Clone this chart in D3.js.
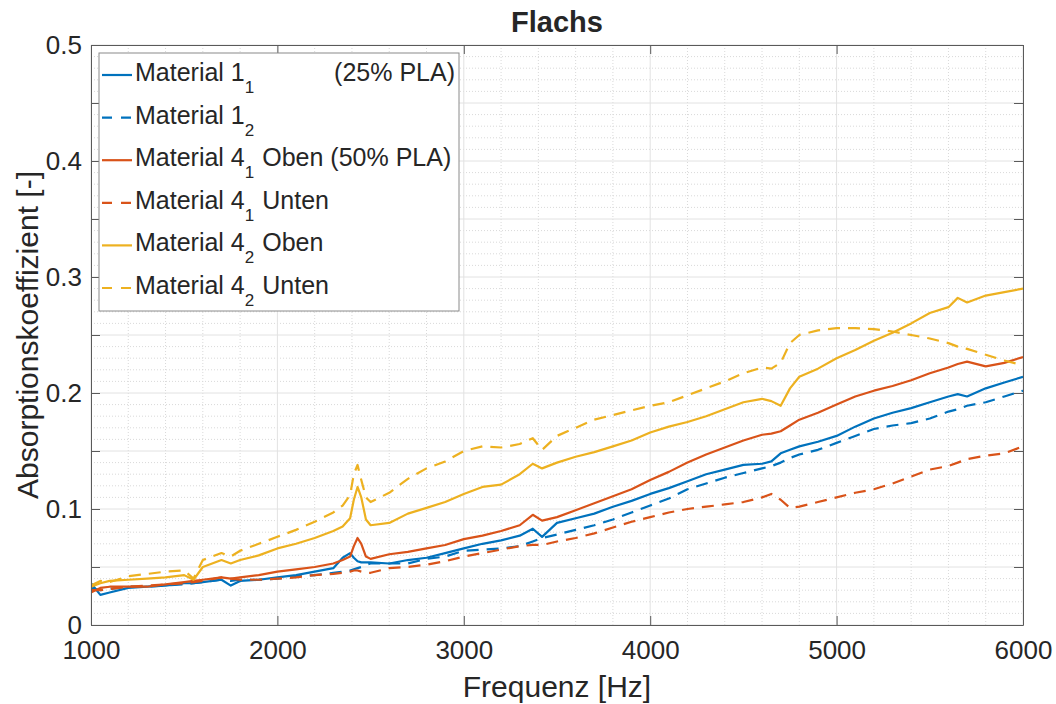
<!DOCTYPE html>
<html>
<head>
<meta charset="utf-8">
<script src="https://cdn.jsdelivr.net/npm/d3@7"></script>
<style>
  body { margin: 0; background: #fff; }
  svg text { font-family: "Liberation Sans", Arial, Helvetica, sans-serif; fill: #262626; }
</style>
</head>
<body>
<div id="chart"></div>
<script>
// frequency grid (Hz), shared by all series
var freq = [1000,1050,1100,1200,1300,1400,1500,1550,1600,1700,1750,1800,1900,2000,2100,2200,2300,2350,2390,2410,2430,2450,2475,2500,2600,2700,2800,2900,3000,3100,3200,3300,3370,3420,3500,3600,3700,3800,3900,4000,4100,4200,4300,4400,4500,4600,4650,4700,4750,4800,4900,5000,5100,5200,5300,5400,5500,5600,5650,5700,5800,5900,6000];

// Material 1_1 (solid blue)
var mat11 = [.036,.026,.028,.032,.033,.034,.036,.036,.037,.039,.034,.038,.039,.041,.043,.046,.049,.058,.062,.058,.055,.054,.054,.054,.053,.056,.058,.062,.066,.070,.073,.077,.083,.076,.088,.092,.096,.102,.107,.113,.118,.124,.130,.134,.138,.139,.141,.148,.151,.154,.158,.163,.171,.178,.183,.187,.192,.197,.199,.197,.204,.209,.214];
// Material 1_2 (dashed blue)
var mat12 = [.032,.030,.031,.033,.033,.034,.035,.036,.037,.039,.038,.039,.039,.040,.042,.043,.045,.046,.047,.048,.049,.050,.052,.053,.053,.053,.057,.059,.064,.065,.066,.068,.072,.075,.078,.082,.086,.091,.097,.103,.109,.117,.122,.127,.131,.135,.137,.140,.144,.147,.151,.157,.163,.169,.172,.174,.178,.184,.186,.189,.192,.197,.202];
// Material 4_1 Oben (solid red)
var mat41o = [.028,.032,.033,.033,.033,.035,.037,.038,.039,.041,.040,.041,.043,.046,.048,.050,.053,.056,.059,.068,.075,.070,.059,.057,.061,.063,.066,.069,.074,.077,.081,.086,.095,.090,.093,.099,.105,.111,.117,.125,.132,.140,.147,.153,.159,.164,.165,.167,.172,.177,.183,.190,.197,.202,.206,.211,.217,.222,.225,.227,.223,.226,.231];
// Material 4_1 Unten (dashed red)
var mat41u = [.030,.030,.031,.033,.034,.035,.036,.037,.038,.041,.040,.039,.039,.040,.041,.043,.044,.045,.046,.047,.047,.046,.045,.045,.049,.050,.052,.055,.059,.062,.065,.068,.069,.069,.072,.075,.079,.084,.089,.093,.097,.100,.102,.104,.106,.110,.113,.108,.101,.102,.106,.110,.114,.117,.122,.128,.134,.137,.140,.143,.146,.148,.154];
// Material 4_2 Oben (solid yellow)
var mat42o = [.033,.036,.038,.039,.040,.041,.043,.039,.050,.056,.053,.056,.060,.066,.070,.075,.081,.085,.092,.108,.119,.110,.091,.086,.088,.096,.101,.106,.113,.119,.121,.130,.139,.135,.140,.145,.149,.154,.159,.166,.171,.175,.180,.186,.192,.195,.193,.189,.204,.214,.221,.230,.237,.245,.252,.260,.269,.274,.282,.278,.284,.287,.290];
// Material 4_2 Unten (dashed yellow)
var mat42u = [.034,.038,.037,.042,.044,.046,.047,.040,.056,.062,.059,.064,.070,.076,.082,.089,.097,.103,.112,.130,.138,.125,.110,.106,.114,.126,.135,.141,.150,.154,.153,.156,.161,.151,.163,.170,.177,.181,.185,.189,.192,.198,.204,.210,.217,.222,.221,.226,.243,.250,.254,.256,.256,.255,.253,.250,.247,.243,.240,.238,.233,.228,.224];

var xTicks = [1000,2000,3000,4000,5000,6000];
var yTicks = [0,0.05,0.1,0.15,0.2,0.25,0.3,0.35,0.4,0.45,0.5];

var legendMain = ["Material 1","Material 1","Material 4","Material 4","Material 4","Material 4"];
var legendSub = ["1","2","1","1","2","2"];
var legendRest = ["","","Oben (50% PLA)","Unten","Oben","Unten"];

var series = [
  {values: mat11, color: "#0072BD", dash: null},
  {values: mat12, color: "#0072BD", dash: "12,8"},
  {values: mat41o, color: "#D95319", dash: null},
  {values: mat41u, color: "#D95319", dash: "12,8"},
  {values: mat42o, color: "#EDB120", dash: null},
  {values: mat42u, color: "#EDB120", dash: "12,8"}
];

var svgWidth = 1056;
var svgHeight = 704;
var margin = {top: 45, right: 33, bottom: 79, left: 91};
var width = svgWidth - margin.left - margin.right;
var height = svgHeight - margin.top - margin.bottom;

var svg = d3.select("#chart")
  .append("svg")
  .attr("width", svgWidth)
  .attr("height", svgHeight);

var chartGroup = svg.append("g")
  .attr("transform", `translate(${margin.left}, ${margin.top})`);

var xScale = d3.scaleLinear().domain([1000, 6000]).range([0, width]);
var yScale = d3.scaleLinear().domain([0, 0.5]).range([height, 0]);

// minor grid
var minorX = d3.range(1200, 6000, 200).filter(d => d % 1000 !== 0);
var minorY = d3.range(1, 50).filter(d => d % 5 !== 0).map(d => d / 100);

chartGroup.append("g").selectAll("line")
  .data(minorX).enter().append("line")
  .attr("x1", d => xScale(d)).attr("x2", d => xScale(d))
  .attr("y1", 0).attr("y2", height)
  .attr("stroke", "#d9d9d9").attr("stroke-width", 1)
  .attr("stroke-dasharray", "1,2");

chartGroup.append("g").selectAll("line")
  .data(minorY).enter().append("line")
  .attr("x1", 0).attr("x2", width)
  .attr("y1", d => yScale(d)).attr("y2", d => yScale(d))
  .attr("stroke", "#d9d9d9").attr("stroke-width", 1)
  .attr("stroke-dasharray", "1,2");

// major grid
chartGroup.append("g").selectAll("line")
  .data(xTicks).enter().append("line")
  .attr("x1", d => xScale(d)).attr("x2", d => xScale(d))
  .attr("y1", 0).attr("y2", height)
  .attr("stroke", "#e2e2e2").attr("stroke-width", 1);

chartGroup.append("g").selectAll("line")
  .data(yTicks).enter().append("line")
  .attr("x1", 0).attr("x2", width)
  .attr("y1", d => yScale(d)).attr("y2", d => yScale(d))
  .attr("stroke", "#e2e2e2").attr("stroke-width", 1);

// clip for the data lines
svg.append("defs").append("clipPath").attr("id", "plotClip")
  .append("rect").attr("width", width).attr("height", height);

var line = d3.line()
  .x((d, i) => xScale(freq[i]))
  .y(d => yScale(d));

chartGroup.append("g").attr("clip-path", "url(#plotClip)")
  .selectAll("path")
  .data(series).enter().append("path")
  .attr("d", d => line(d.values))
  .attr("fill", "none")
  .attr("stroke", d => d.color)
  .attr("stroke-width", 2.2)
  .attr("stroke-linejoin", "round")
  .attr("stroke-dasharray", d => d.dash);

// axes
var yFmt = d => (Math.round(d * 100) % 10 === 0 ? (d === 0 ? "0" : d.toFixed(1)) : "");

var bottomAxis = d3.axisBottom(xScale).tickValues(xTicks).tickSize(-9).tickSizeOuter(0).tickPadding(16).tickFormat(d3.format("d"));
var topAxis = d3.axisTop(xScale).tickValues(xTicks).tickSize(-9).tickSizeOuter(0).tickFormat("");
var leftAxis = d3.axisLeft(yScale).tickValues(yTicks).tickSize(-9).tickSizeOuter(0).tickPadding(9).tickFormat(yFmt);
var rightAxis = d3.axisRight(yScale).tickValues(yTicks).tickSize(-9).tickSizeOuter(0).tickFormat("");

var axes = [
  chartGroup.append("g").attr("transform", `translate(0, ${height})`).call(bottomAxis),
  chartGroup.append("g").call(topAxis),
  chartGroup.append("g").call(leftAxis),
  chartGroup.append("g").attr("transform", `translate(${width}, 0)`).call(rightAxis)
];
axes.forEach(function(g) {
  g.select(".domain").attr("stroke", "#5a5a5a");
  g.selectAll(".tick line").attr("stroke", "#5a5a5a");
  g.selectAll(".tick text").attr("font-size", "26px").attr("fill", "#262626")
    .attr("font-family", "Liberation Sans, Arial, sans-serif");
});

// legend
var legend = chartGroup.append("g").attr("transform", "translate(8, 8)");
legend.append("rect")
  .attr("width", 360).attr("height", 258)
  .attr("fill", "#fff").attr("stroke", "#8a8a8a").attr("stroke-width", 1);

var rows = legend.selectAll("g.row")
  .data(series).enter().append("g")
  .attr("transform", (d, i) => `translate(0, ${28 + i * 42.6})`);

rows.append("line")
  .attr("x1", 3).attr("x2", 33).attr("y1", -6).attr("y2", -6)
  .attr("stroke", d => d.color).attr("stroke-width", 2.2)
  .attr("stroke-dasharray", d => d.dash ? "10,9" : null);

var rowText = rows.append("text")
  .attr("x", 36).attr("y", 0)
  .attr("font-size", "25px");
rowText.append("tspan").text((d, i) => legendMain[i]);
rowText.append("tspan").attr("dy", 12).attr("font-size", "17px").text((d, i) => legendSub[i]);
rowText.append("tspan").attr("dy", -12).attr("dx", 8).text((d, i) => legendRest[i]);

legend.append("text")
  .attr("x", 356).attr("y", 28)
  .attr("text-anchor", "end")
  .attr("font-size", "25px")
  .text("(25% PLA)");

// labels
svg.append("text")
  .attr("x", margin.left + width / 2).attr("y", 32)
  .attr("text-anchor", "middle")
  .attr("font-size", "29px").attr("font-weight", "bold")
  .attr("fill", "#000")
  .text("Flachs");

svg.append("text")
  .attr("x", margin.left + width / 2).attr("y", 697)
  .attr("text-anchor", "middle")
  .attr("font-size", "30px")
  .text("Frequenz [Hz]");

svg.append("text")
  .attr("transform", "rotate(-90)")
  .attr("x", -(margin.top + height / 2)).attr("y", 38)
  .attr("text-anchor", "middle")
  .attr("font-size", "30px")
  .text("Absorptionskoeffizient [-]");
</script>
</body>
</html>
